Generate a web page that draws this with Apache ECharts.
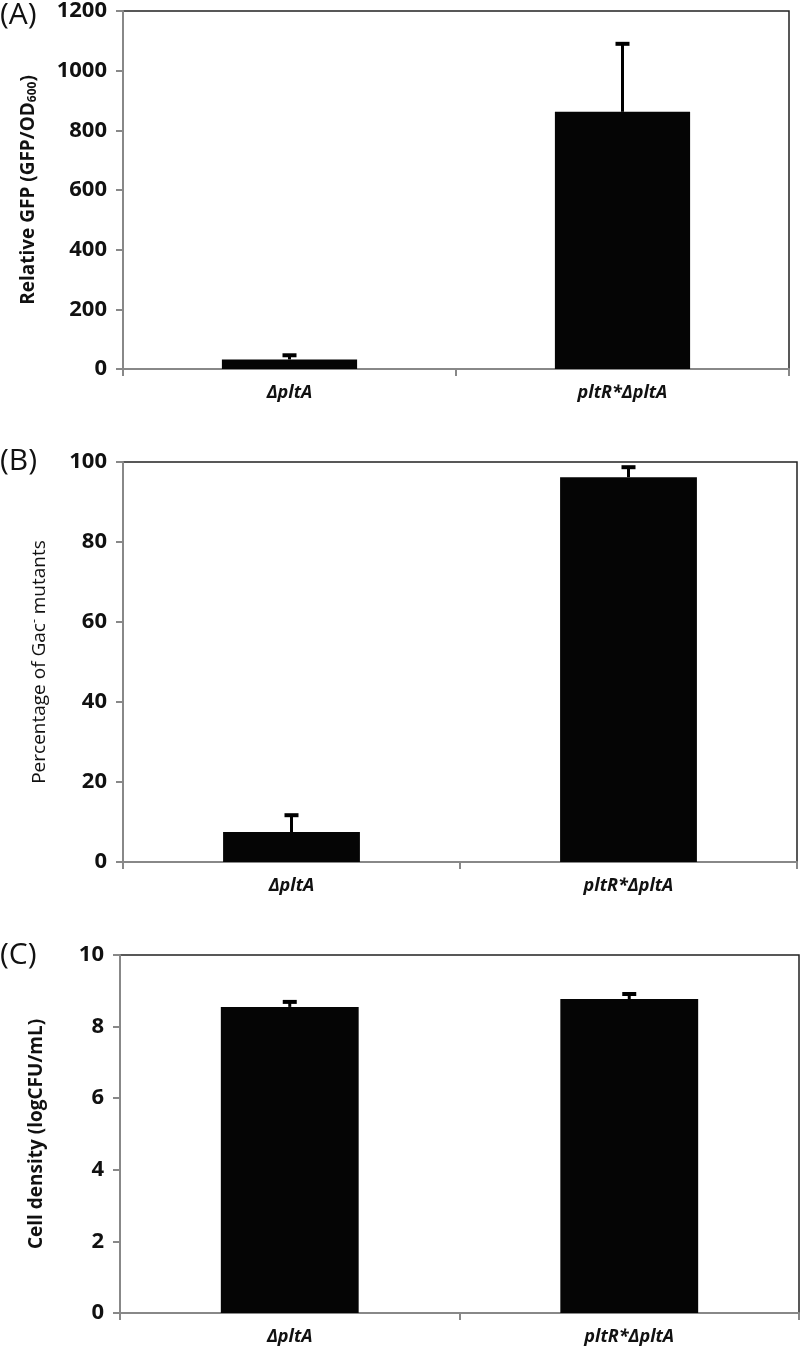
<!DOCTYPE html>
<html><head><meta charset="utf-8">
<script src="https://cdn.jsdelivr.net/npm/echarts@6/dist/echarts.min.js"></script>
<style>html,body{margin:0;padding:0;background:#fff}#c{width:800px;height:1358px}</style>
</head><body><div id="c"></div>
<script>
var categories = ['ΔpltA', 'pltR*ΔpltA'];
var gfpValues = [32, 862];
var gfpErrors = [14, 228];
var gacValues = [7.5, 96.2];
var gacErrors = [4.2, 2.5];
var densityValues = [8.55, 8.77];
var densityErrors = [0.14, 0.14];
var panelLabels = ['(A)', '(B)', '(C)'];

var FONT = 'Open Sans';
var grids = [
  {left: 123, right: 11, top: 10, height: 359},
  {left: 123, right: 3, top: 462, height: 400},
  {left: 120, right: 1, top: 955, height: 358}
];
var labelTops = [0, 446, 940];
var yAxes = [
  {max: 1200, interval: 200, name: 'Relative GFP (GFP/OD{sub|600})', weight: 'bold', size: 19, gap: 84},
  {max: 100, interval: 20, name: 'Percentage of Gac{sup|-} mutants', weight: 'normal', size: 19, gap: 73},
  {max: 10, interval: 2, name: 'Cell density (logCFU/mL)', weight: 'bold', size: 19, gap: 74}
];
var values = [gfpValues, gacValues, densityValues];
var errors = [gfpErrors, gacErrors, densityErrors];

var option = {
  animation: false,
  backgroundColor: '#fff',
  grid: grids.map(function (g) {
    return Object.assign({show: true, borderColor: '#222', borderWidth: 1.5, backgroundColor: 'transparent'}, g);
  }),
  xAxis: grids.map(function (g, i) {
    return {
      type: 'category', gridIndex: i, data: categories,
      axisLine: {lineStyle: {color: '#888', width: 2}},
      axisTick: {show: true, length: 7, lineStyle: {color: '#888', width: 2}},
      axisLabel: {fontFamily: FONT, fontWeight: 'bold', fontStyle: 'italic', fontSize: 18, color: '#111', margin: 15}
    };
  }),
  yAxis: yAxes.map(function (a, i) {
    return {
      type: 'value', gridIndex: i, min: 0, max: a.max, interval: a.interval,
      name: a.name, nameLocation: 'middle', nameGap: a.gap,
      nameTextStyle: {fontFamily: FONT, fontWeight: a.weight, fontSize: a.size, color: '#111',
        rich: {sub: {fontFamily: FONT, fontWeight: a.weight, fontSize: 12, color: '#111', padding: [9, 0, 0, 0]},
               sup: {fontFamily: FONT, fontWeight: a.weight, fontSize: 12, color: '#111', padding: [0, 0, 9, 0]}}},
      splitLine: {show: false},
      axisLine: {show: true, lineStyle: {color: '#888', width: 2}},
      axisTick: {show: true, length: 7, lineStyle: {color: '#888', width: 2}},
      axisLabel: {fontFamily: FONT, fontWeight: 'bold', fontSize: 22, color: '#111', margin: 16,
        formatter: function (v) { return String(v); }}
    };
  }),
  series: [],
  graphic: panelLabels.map(function (t, i) {
    return {type: 'text', left: 0, top: labelTops[i],
      style: {text: t, fontFamily: FONT, fontSize: 30, fill: '#111'}};
  })
};

values.forEach(function (vals, i) {
  option.series.push({
    type: 'bar', xAxisIndex: i, yAxisIndex: i, data: vals, barWidth: '40.6%',
    itemStyle: {color: '#050505'}, z: 2
  });
  option.series.push({
    type: 'custom', xAxisIndex: i, yAxisIndex: i, z: 3,
    data: vals.map(function (v, k) { return [k, v, v + errors[i][k]]; }),
    renderItem: function (params, api) {
      var base = api.coord([api.value(0), api.value(1)]);
      var top = api.coord([api.value(0), api.value(2)]);
      var hw = 7;
      return {type: 'group', children: [
        {type: 'line', shape: {x1: base[0], y1: base[1], x2: top[0], y2: top[1]}, style: {stroke: '#000', lineWidth: 3}},
        {type: 'line', shape: {x1: top[0] - hw, y1: top[1], x2: top[0] + hw, y2: top[1]}, style: {stroke: '#000', lineWidth: 4}}
      ]};
    }
  });
});

var chart = echarts.init(document.getElementById('c'), null, {renderer: 'canvas'});
chart.setOption(option);
</script></body></html>
